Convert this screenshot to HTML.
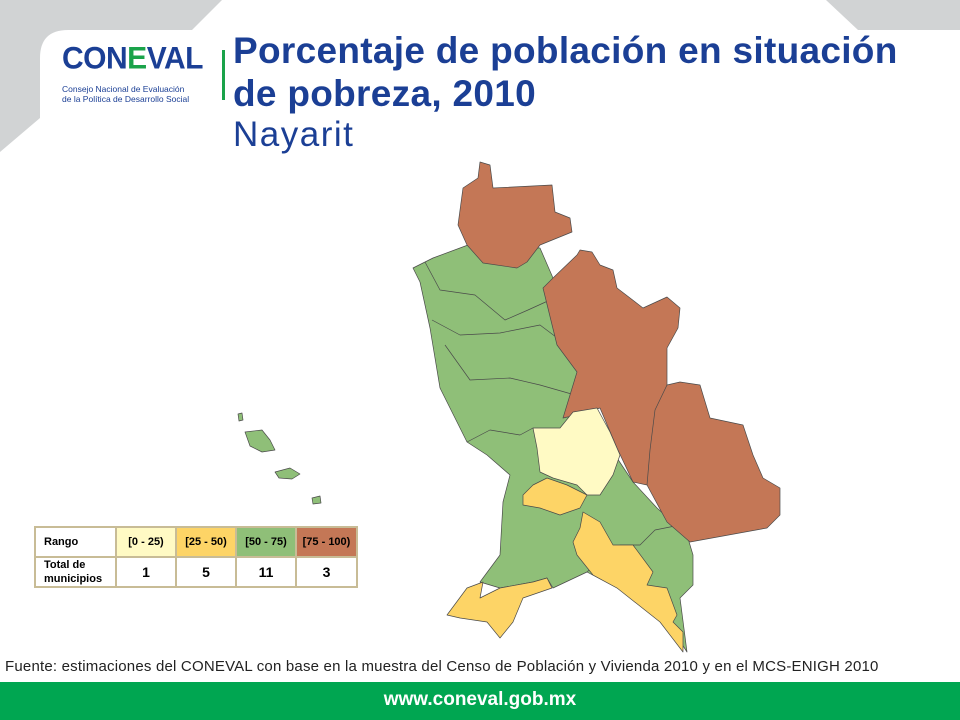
<!DOCTYPE html>
<html><head><meta charset="utf-8"><style>
body{margin:0;width:960px;height:720px;overflow:hidden;background:#fff;position:relative;font-family:"Liberation Sans",sans-serif}
.t{position:absolute;color:#1b3f95;white-space:nowrap}
table{position:absolute;left:34px;top:526px;border-collapse:collapse;font-weight:bold;font-size:11px}
td{border:2px solid #c8bc96;text-align:center;padding:0}
</style></head><body>
<svg width="960" height="720" style="position:absolute;left:0;top:0">
<path d="M0,0 L222,0 L192,30 L68,30 Q40,30 40,58 L40,118 L0,152 Z" fill="#d1d3d4"/>
<polygon points="826,0 960,0 960,30 858,30" fill="#d1d3d4"/>
<rect x="222" y="50" width="3" height="50" fill="#1aa34a"/>
<g stroke="#4a4a4a" stroke-width="0.7" stroke-linejoin="round">
<polygon fill="#8fbf78" points="413,268 425,262 433,258 468,245 540,248 553,278 583,355 587,375 573,395 617,458 633,482 657,508 687,535 693,555 693,585 680,598 687,652 663,615 617,588 587,572 553,588 547,578 533,582 500,588 480,582 500,555 503,502 510,475 487,455 467,442 440,388 430,328 420,282"/>
<polyline fill="none" points="425,262 440,290 475,295 505,320 528,310 550,300"/>
<polyline fill="none" points="432,320 460,335 500,333 540,325 560,340"/>
<polyline fill="none" points="445,345 470,380 510,378 540,385 575,395"/>
<polyline fill="none" points="467,442 490,430 520,435 533,428"/>
<polyline fill="none" points="587,572 600,560 620,545 640,545 655,530 680,525"/>
<polygon fill="#c47756" points="480,162 490,165 493,188 552,185 555,212 570,218 572,232 540,245 527,262 517,268 483,263 467,245 458,225 463,188 478,178"/>
<polygon fill="#c47756" points="580,250 592,252 600,265 613,270 617,288 643,308 667,297 680,308 678,328 667,348 667,385 680,382 700,385 710,418 743,425 753,455 763,478 780,488 780,515 767,528 690,542 667,522 647,485 633,482 617,448 600,408 577,415 563,418 570,395 577,372 557,345 543,288 553,278 577,255"/>
<polyline fill="none" points="667,385 655,410 650,450 647,485"/>
<polygon fill="#fffac4" points="533,428 560,428 573,412 597,408 610,432 620,455 613,475 600,495 587,495 577,485 553,478 540,472 537,448"/>
<polygon fill="#fdd466" points="547,478 567,485 587,495 580,508 560,515 540,508 523,505 523,495 533,485"/>
<polygon fill="#fdd466" points="583,512 600,522 613,545 633,545 653,572 647,585 667,588 677,615 673,622 683,632 683,652 660,622 617,588 593,575 577,555 573,542 580,528"/>
<polygon fill="#fdd466" points="447,615 467,588 483,582 480,598 500,588 533,582 547,578 552,588 523,598 513,622 500,638 487,622 460,618"/>
<polygon fill="#8fbf78" points="245,432 262,430 270,440 275,450 262,452 250,446"/>
<polygon fill="#8fbf78" points="275,472 290,468 300,474 292,479 279,478"/>
<polygon fill="#8fbf78" points="312,498 320,496 321,503 313,504"/>
<polygon fill="#8fbf78" points="238,414 242,413 243,420 239,421"/>
</g>
<rect x="0" y="682" width="960" height="38" fill="#00a651"/>
</svg>
<div class="t" style="left:62px;top:42px;font-size:30px;font-weight:bold;letter-spacing:-0.5px;transform:scaleY(1.05)">CON<span style="color:#1aa34a">E</span>VAL</div>
<div class="t" style="left:62px;top:84px;font-size:8.5px;line-height:10px">Consejo Nacional de Evaluación<br>de la Política de Desarrollo Social</div>
<div class="t" style="left:233px;top:29px;font-size:37px;font-weight:bold;line-height:43px;letter-spacing:0.3px">Porcentaje de población en situación<br>de pobreza, 2010</div>
<div class="t" style="left:233px;top:115px;font-size:35px;letter-spacing:1.5px">Nayarit</div>
<table>
<tr style="height:30px"><td style="text-align:left;padding-left:8px;width:71px">Rango</td><td style="width:58px;background:#fffac4">[0 - 25)</td><td style="width:58px;background:#fdd466">[25 - 50)</td><td style="width:58px;background:#8fbf78">[50 - 75)</td><td style="width:59px;background:#c47756">[75 - 100)</td></tr>
<tr style="height:30px;font-size:14px"><td style="text-align:left;padding-left:8px;font-size:11px;line-height:14px">Total de<br>municipios</td><td>1</td><td>5</td><td>11</td><td>3</td></tr>
</table>
<div style="position:absolute;left:5px;top:658px;font-size:15px;color:#222;white-space:nowrap;letter-spacing:0.2px">Fuente: estimaciones del CONEVAL con base en la muestra del Censo de Población y Vivienda 2010 y en el MCS-ENIGH 2010</div>
<div style="position:absolute;left:0;width:960px;top:689px;text-align:center;font-size:19px;font-weight:bold;color:#fff">www.coneval.gob.mx</div>
</body></html>
